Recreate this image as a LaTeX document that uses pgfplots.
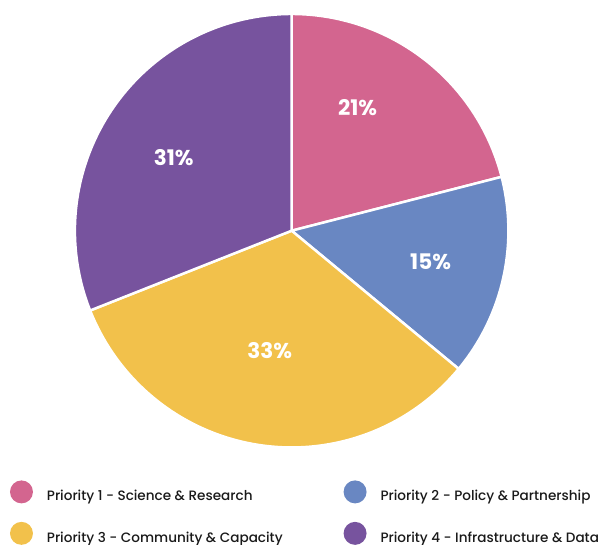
\documentclass[border=0pt]{standalone}
\usepackage{pgfplots}
\pgfplotsset{compat=1.18}
\usepackage{fontspec}
\setmainfont{Poppins}[BoldFont={Poppins Bold}]
\newfontfamily\legfont{Poppins Medium}
\definecolor{cpink}{HTML}{D3658F}
\definecolor{cblue}{HTML}{6987C2}
\definecolor{cyellow}{HTML}{F2C14B}
\definecolor{cpurple}{HTML}{77539E}
% shares in percent, drawn clockwise from 12 o'clock
\def\vA{21}\def\vB{15}\def\vC{33}\def\vD{31}
\begin{document}
\begin{tikzpicture}
\pgfmathsetmacro{\aA}{90}
\pgfmathsetmacro{\aB}{\aA-3.6*\vA}
\pgfmathsetmacro{\aC}{\aB-3.6*\vB}
\pgfmathsetmacro{\aD}{\aC-3.6*\vC}
\pgfmathsetmacro{\aE}{\aD-3.6*\vD}
\begin{axis}[
  x=217pt, y=217pt,
  xmin=-1.3456, xmax=1.4147, ymin=-1.447, ymax=1.0645,
  hide axis, clip=false,
  legend columns=2,
  legend image code/.code={\fill[#1,draw=none] (0pt,4.5pt) circle (11.5pt);},
  legend style={at={(axis cs:-1.2995,-1.152)}, anchor=north west,
    draw=none, fill=none, inner sep=0pt, outer sep=0pt,
    font=\legfont\fontsize{13.6}{15}\selectfont, text=black!90,
    nodes={inner sep=0pt}, column sep=14pt, row sep=18.5pt,
    /tikz/every even column/.append style={column sep=68pt}},
  legend cell align=left,
]
\path (rel axis cs:0,0) rectangle (rel axis cs:1,1);
\addplot[fill=cpink, draw=white, line width=2.5pt, domain=\aB:\aA, samples=90, variable=\t] ({cos(\t)},{sin(\t)}) -- (axis cs:0,0) -- cycle;
\addlegendentry{\makebox[229pt][l]{Priority 1 - Science \& Research}}
\addplot[fill=cblue, draw=white, line width=2.5pt, domain=\aC:\aB, samples=90, variable=\t] ({cos(\t)},{sin(\t)}) -- (axis cs:0,0) -- cycle;
\addlegendentry{Priority 2 - Policy \& Partnership}
\addplot[fill=cyellow, draw=white, line width=2.5pt, domain=\aD:\aC, samples=120, variable=\t] ({cos(\t)},{sin(\t)}) -- (axis cs:0,0) -- cycle;
\addlegendentry{\makebox[229pt][l]{Priority 3 - Community \& Capacity}}
\addplot[fill=cpurple, draw=white, line width=2.5pt, domain=\aE:\aD, samples=120, variable=\t] ({cos(\t)},{sin(\t)}) -- (axis cs:0,0) -- cycle;
\addlegendentry{Priority 4 - Infrastructure \& Data}
\begin{scope}[every node/.style={text=white, font=\fontsize{21.5}{23}\selectfont\bfseries}]
\node at (axis cs:0.304,0.567) {21\%};
\node at (axis cs:0.641,-0.143) {15\%};
\node at (axis cs:-0.101,-0.553) {33\%};
\node at (axis cs:-0.544,0.336) {31\%};
\end{scope}
\end{axis}
\end{tikzpicture}
\end{document}
